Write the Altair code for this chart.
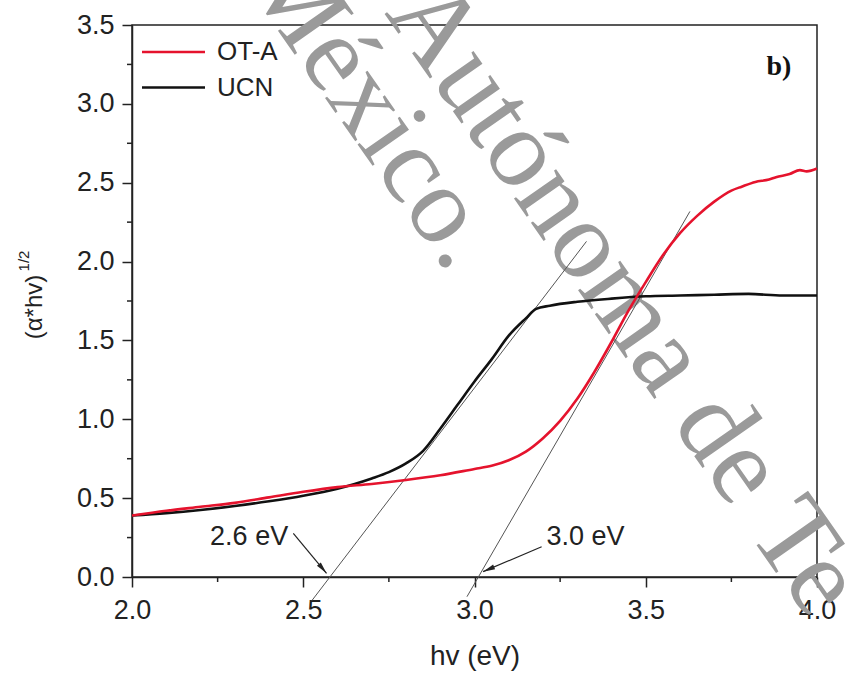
import math
import altair as alt
import pandas as pd

# ---------------- data ----------------
series_names = ["OT-A", "UCN"]
series_colors = ["#e5132d", "#111111"]

ota_hv = [2.0, 2.1, 2.2, 2.3, 2.4, 2.5, 2.6, 2.7, 2.8, 2.9, 3.0, 3.05, 3.1, 3.15,
          3.2, 3.25, 3.3, 3.35, 3.4, 3.45, 3.5, 3.55, 3.6, 3.65, 3.7, 3.75, 3.78,
          3.82, 3.86, 3.88, 3.92, 3.95, 3.97, 4.0]
ota_val = [0.39, 0.42, 0.445, 0.47, 0.505, 0.54, 0.57, 0.59, 0.615, 0.645, 0.685,
           0.705, 0.74, 0.795, 0.88, 0.99, 1.13, 1.30, 1.49, 1.69, 1.87, 2.04,
           2.18, 2.29, 2.38, 2.45, 2.475, 2.505, 2.52, 2.535, 2.555, 2.58,
           2.572, 2.59]

ucn_hv = [2.0, 2.1, 2.2, 2.3, 2.4, 2.5, 2.6, 2.65, 2.7, 2.75, 2.8, 2.85, 2.9,
          2.95, 3.0, 3.05, 3.1, 3.15, 3.18, 3.22, 3.3, 3.4, 3.5, 3.6, 3.7, 3.8,
          3.9, 4.0]
ucn_val = [0.39, 0.405, 0.425, 0.45, 0.48, 0.515, 0.56, 0.59, 0.625, 0.665, 0.72,
           0.80, 0.94, 1.09, 1.24, 1.38, 1.53, 1.64, 1.70, 1.72, 1.745, 1.765,
           1.78, 1.785, 1.79, 1.795, 1.785, 1.785]

x_ticks = [2.0, 2.5, 3.0, 3.5, 4.0]
y_ticks = [0.0, 0.5, 1.0, 1.5, 2.0, 2.5, 3.0, 3.5]
x_minor = [2.25, 2.75, 3.25, 3.75]
y_minor = [0.25, 0.75, 1.25, 1.75, 2.25, 2.75, 3.25]

# tangent (Tauc) lines
tan_x1 = [2.525, 2.978]
tan_y1 = [-0.15, -0.125]
tan_x2 = [3.327, 3.629]
tan_y2 = [2.128, 2.318]

# band-gap annotations
gap_labels = ["2.6 eV", "3.0 eV"]
gap_label_x = [2.228, 3.210]
gap_label_y = [0.254, 0.256]
arrow_x1 = [2.471, 3.196]
arrow_y1 = [0.277, 0.192]
arrow_x2 = [2.568, 3.025]
arrow_y2 = [0.023, 0.034]

panel_label = ["b)"]
panel_x = [3.889]
panel_y = [3.185]

y_title_main = ["(α*hv)"]
y_title_sup = ["1/2"]
x_title = "hv (eV)"

watermark_a = ["Autónoma de Te"]
watermark_b = ["México."]

# ---------------- layout ----------------
W, H = 685, 552
X_DOM = [2.0, 4.0]
Y_DOM = [0.0, 3.5]
FONT = "Liberation Sans"
INK = "#222222"

xs = alt.Scale(domain=X_DOM, nice=False, zero=False)
ys = alt.Scale(domain=Y_DOM, nice=False, zero=False)

px_x = W / (X_DOM[1] - X_DOM[0])
px_y = H / (Y_DOM[1] - Y_DOM[0])

x_axis = alt.Axis(values=x_ticks, format=".1f", title=x_title, grid=False,
                  labelFlush=False, labelOverlap=False, tickSize=10,
                  tickWidth=1.5, domainWidth=1.5, domainColor=INK,
                  tickColor=INK, labelColor=INK, labelFont=FONT,
                  labelFontSize=27, labelPadding=10, titleFont=FONT,
                  titleFontSize=28, titleFontWeight="normal",
                  titleColor=INK, titleBaseline="alphabetic", titleY=87)
y_axis = alt.Axis(values=y_ticks, format=".1f", title=None, grid=False,
                  labelFlush=False, labelOverlap=False, tickSize=10,
                  tickWidth=1.5, domainWidth=1.5, domainColor=INK,
                  tickColor=INK, labelColor=INK, labelFont=FONT,
                  labelFontSize=27, labelPadding=8)


def X(field):
    return alt.X(field, scale=xs, axis=x_axis)


def Y(field):
    return alt.Y(field, scale=ys, axis=y_axis)


# ---------------- layers ----------------
wm_a = alt.Chart(pd.DataFrame({"t": watermark_a})).mark_text(
    font="Liberation Serif", fontSize=112, color="#9a9a9a", angle=55,
    align="left", baseline="alphabetic"
).encode(x=alt.value(252), y=alt.value(-12), text="t:N")

wm_b = alt.Chart(pd.DataFrame({"t": watermark_b})).mark_text(
    font="Liberation Serif", fontSize=110, color="#9a9a9a", angle=55,
    align="right", baseline="alphabetic"
).encode(x=alt.value(317), y=alt.value(250), text="t:N")

tan_df = pd.DataFrame({"x1": tan_x1, "y1": tan_y1, "x2": tan_x2, "y2": tan_y2})
tangents = alt.Chart(tan_df).mark_rule(color="#555555", strokeWidth=1).encode(
    x=X("x1:Q"), y=Y("y1:Q"), x2="x2:Q", y2="y2:Q")

xminor = alt.Chart(pd.DataFrame({"v": x_minor})).mark_rule(
    color=INK, strokeWidth=1.5).encode(
    x=X("v:Q"), y=alt.value(H), y2=alt.value(H + 5))

yminor = alt.Chart(pd.DataFrame({"v": y_minor})).mark_rule(
    color=INK, strokeWidth=1.5).encode(
    y=Y("v:Q"), x=alt.value(0), x2=alt.value(-5))

ucn_df = pd.DataFrame({"hv": ucn_hv, "v": ucn_val})
ota_df = pd.DataFrame({"hv": ota_hv, "v": ota_val})

ucn_line = alt.Chart(ucn_df).mark_line(
    color=series_colors[1], strokeWidth=2.6, interpolate="monotone").encode(
    x=X("hv:Q"), y=Y("v:Q"))

ota_line = alt.Chart(ota_df).mark_line(
    color=series_colors[0], strokeWidth=2.6, interpolate="monotone").encode(
    x=X("hv:Q"), y=Y("v:Q"))

# arrows
arr_rows = []
head_r = 6.0
for i in range(len(gap_labels)):
    dxp = (arrow_x2[i] - arrow_x1[i]) * px_x
    dyp = -(arrow_y2[i] - arrow_y1[i]) * px_y
    L = math.hypot(dxp, dyp)
    ux, uy = dxp / L, dyp / L
    ang = math.degrees(math.atan2(ux, -uy)) % 360
    hx = arrow_x2[i] - head_r * ux / px_x
    hy = arrow_y2[i] + head_r * uy / px_y
    arr_rows.append({"x1": arrow_x1[i], "y1": arrow_y1[i],
                     "x2": arrow_x2[i], "y2": arrow_y2[i],
                     "hx": hx, "hy": hy, "ang": ang})
arr_df = pd.DataFrame(arr_rows)

arrow_shafts = alt.Chart(arr_df).mark_rule(color=INK, strokeWidth=1.2).encode(
    x=X("x1:Q"), y=Y("y1:Q"), x2="x2:Q", y2="y2:Q")

arrow_heads = alt.Chart(arr_df).mark_point(
    shape="M0,-1L0.42,1L-0.42,1Z", filled=True, size=144, color=INK,
    opacity=1).encode(
    x=X("hx:Q"), y=Y("hy:Q"), angle=alt.Angle("ang:Q", scale=None))

gap_df = pd.DataFrame({"t": gap_labels, "x": gap_label_x, "y": gap_label_y})
gap_text = alt.Chart(gap_df).mark_text(
    font=FONT, fontSize=27, color=INK, align="left", baseline="middle").encode(
    x=X("x:Q"), y=Y("y:Q"), text="t:N")

panel_df = pd.DataFrame({"t": panel_label, "x": panel_x, "y": panel_y})
panel_text = alt.Chart(panel_df).mark_text(
    font="Liberation Serif", fontSize=28, fontWeight="bold", color="#111111",
    align="center", baseline="alphabetic").encode(
    x=X("x:Q"), y=Y("y:Q"), text="t:N")

ytitle_main = alt.Chart(pd.DataFrame({"t": y_title_main})).mark_text(
    font=FONT, fontSize=24, color=INK, angle=270, align="center",
    baseline="middle").encode(x=alt.value(-97), y=alt.value(282), text="t:N")
ytitle_sup = alt.Chart(pd.DataFrame({"t": y_title_sup})).mark_text(
    font=FONT, fontSize=15, color=INK, angle=270, align="center",
    baseline="middle").encode(x=alt.value(-108), y=alt.value(236), text="t:N")

# manual legend (line swatch + label)
legend_layers = []
for i, (name, col) in enumerate(zip(series_names, series_colors)):
    ly = 27 + 35.5 * i
    d = pd.DataFrame({"t": [name]})
    legend_layers.append(alt.Chart(d).mark_rule(color=col, strokeWidth=2.6).encode(
        x=alt.value(10), x2=alt.value(73), y=alt.value(ly)))
    legend_layers.append(alt.Chart(d).mark_text(
        font=FONT, fontSize=26, color=INK, align="left", baseline="middle").encode(
        x=alt.value(85), y=alt.value(ly), text="t:N"))

chart = alt.layer(
    wm_a, wm_b, tangents, xminor, yminor, ucn_line, ota_line,
    arrow_shafts, arrow_heads, gap_text, panel_text, ytitle_main, ytitle_sup,
    *legend_layers
).properties(
    width=W, height=H,
    autosize=alt.AutoSizeParams(type="none"),
    padding={"left": 132, "top": 25, "right": 29, "bottom": 98},
    background="white",
).configure_view(stroke=INK, strokeWidth=1.5)

chart.save("out.html", embed_options={"renderer": "svg", "actions": False})
